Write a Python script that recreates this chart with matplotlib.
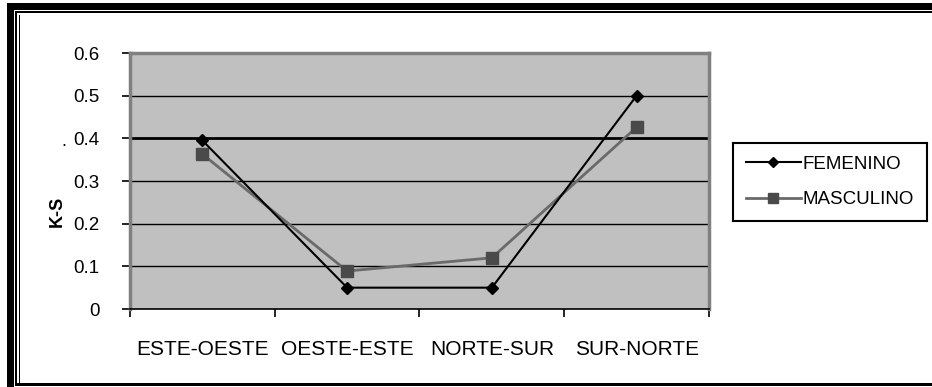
import matplotlib.pyplot as plt
from matplotlib.patches import Rectangle

# datos K-S por dirección y sexo
direcciones = ['ESTE-OESTE', 'OESTE-ESTE', 'NORTE-SUR', 'SUR-NORTE']
femenino = [0.395, 0.05, 0.05, 0.50]
masculino = [0.363, 0.089, 0.12, 0.426]
yticks = [0, 0.1, 0.2, 0.3, 0.4, 0.5, 0.6]

plt.rcParams['font.family'] = ['Liberation Sans', 'DejaVu Sans']

W, H = 932, 387
fig = plt.figure(figsize=(W / 100, H / 100), dpi=100)
fig.patch.set_facecolor('white')

# marco exterior doble
def marco(x0, y0, x1, y1, color='black'):
    fig.patches.append(Rectangle((x0 / W, 1 - y1 / H), (x1 - x0) / W, (y1 - y0) / H,
                                 transform=fig.transFigure, color=color, lw=0, zorder=0))

marco(7, 3, W, 10)        # superior grueso
marco(15, 11.5, W, 13)     # superior fino
marco(7, 3, 13.5, H)      # izquierdo grueso
marco(15, 11.5, 16.5, 383)  # izquierdo fino
marco(18.5, 14.5, 19.8, 383)
marco(15, 382.5, W, 386)  # inferior

# área de gráfico
ax = fig.add_axes([130 / W, 1 - 309 / H, 579 / W, 256 / H])
ax.set_facecolor('#c0c0c0')
x = [i + 0.5 for i in range(len(direcciones))]

for y in yticks[1:-1]:
    ax.axhline(y, color='black', lw=2 if y == 0.4 else 1, zorder=1)

ax.plot(x, femenino, color='black', lw=1.5, marker='D', ms=6,
        mfc='black', mec='black', label='FEMENINO', zorder=3)
ax.plot(x, masculino, color='#6a6a6a', lw=2, marker='s', ms=8,
        mfc='#4a4a4a', mec='#4a4a4a', label='MASCULINO', zorder=2)

ax.set_xlim(0, 4)
ax.set_ylim(0, 0.6)
ax.set_yticks(yticks)
ax.set_yticklabels(['0', '0.1', '0.2', '0.3', '0.4', '0.5', '0.6'], fontsize=13.5)
ax.set_xticks(x)
ax.set_xticklabels(direcciones, fontsize=15)
ax.set_xticks(range(5), minor=True)
ax.tick_params(axis='x', which='major', length=0, pad=22)
ax.tick_params(axis='x', which='minor', length=6, width=1.2, color='black', direction='out')
ax.tick_params(axis='y', length=6, width=1.2, color='black', pad=16)

for lado in ['top', 'right']:
    ax.spines[lado].set_color('#808080')
    ax.spines[lado].set_linewidth(2.5)
ax.spines['left'].set_color('#808080')
ax.spines['left'].set_linewidth(2.5)
ax.spines['bottom'].set_color('black')
ax.spines['bottom'].set_linewidth(1.2)

# título del eje y
fig.text(57 / W, 1 - 211 / H, 'K-S', rotation=90, ha='center', va='center',
         fontsize=13, fontweight='bold')
fig.text(64 / W, 1 - 141 / H, '.', ha='center', va='center', fontsize=13)

# leyenda en recuadro aparte
lax = fig.add_axes([733 / W, 1 - 221 / H, 194 / W, 78 / H])
lax.set_xticks([])
lax.set_yticks([])
for s in lax.spines.values():
    s.set_color('black')
    s.set_linewidth(1.5)
handles, labels = ax.get_legend_handles_labels()
lax.legend(handles, labels, loc='center', frameon=False, fontsize=13.5,
           handlelength=2.9, handletextpad=0.1, labelspacing=1.0, markerscale=0.9)

plt.savefig('out.png', dpi=100)
